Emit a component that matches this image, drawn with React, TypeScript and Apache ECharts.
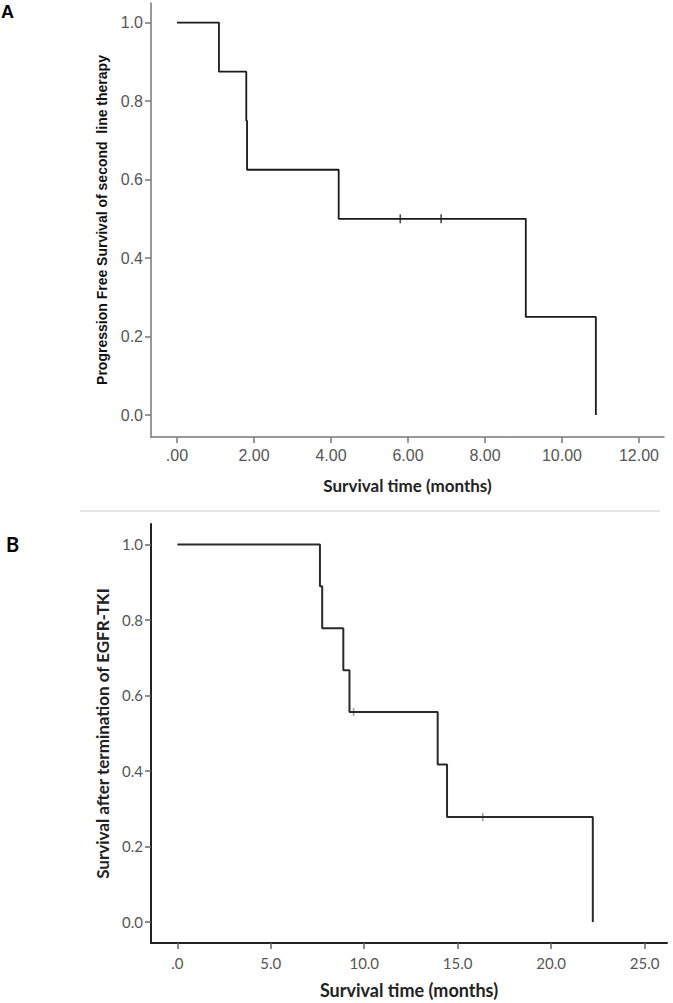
import React, { useEffect, useRef } from "react";
import * as echarts from "echarts";

// Panel A: progression free survival of second line therapy
const timesA = [0, 1.09, 1.8, 1.82, 4.2, 9.06, 10.88];
const survA = [1.0, 0.875, 0.75, 0.625, 0.5, 0.25, 0.0];
const censorTimesA = [5.8, 6.86];
const censorSurvA = [0.5, 0.5];
const xTicksA = [0, 2, 4, 6, 8, 10, 12];

// Panel B: survival after termination of EGFR-TKI
const timesB = [0, 7.63, 7.75, 8.88, 9.21, 13.93, 14.43, 22.23];
const survB = [1.0, 0.889, 0.778, 0.667, 0.556, 0.417, 0.278, 0.0];
const censorTimesB = [9.43, 16.34];
const censorSurvB = [0.556, 0.278];
const xTicksB = [0, 5, 10, 15, 20, 25];

const yTicks = [0, 0.2, 0.4, 0.6, 0.8, 1.0];

export default function App() {
  const ref = useRef<HTMLDivElement>(null);
  useEffect(() => {
    if (!ref.current) return;
    const chart = echarts.init(ref.current, null, { renderer: "svg" });
    const arial = "'Liberation Sans', Arial, sans-serif";
    const lato = "Lato, 'Open Sans', sans-serif";
    const option: any = {
      animation: false,
      backgroundColor: "#ffffff",
      grid: [
        { left: 151, top: 3, width: 513, height: 434 },
        { left: 151, top: 524, width: 516, height: 419 },
      ],
      xAxis: [
        {
          gridIndex: 0,
          type: "value",
          min: -0.675,
          max: 12.65,
          name: "Survival time (months)",
          nameLocation: "middle",
          nameGap: 40,
          nameTextStyle: { fontFamily: lato, fontWeight: "bold", fontSize: 17, color: "#222" },
          axisLine: { show: true, onZero: false, lineStyle: { color: "#777", width: 1.5 } },
          axisTick: { show: true, length: 6, customValues: xTicksA, lineStyle: { color: "#777", width: 1.5 } },
          axisLabel: {
            customValues: xTicksA,
            margin: 10,
            fontFamily: arial,
            fontSize: 16,
            color: "#555",
            formatter: (v: number) => (v === 0 ? ".00" : v.toFixed(2)),
          },
          splitLine: { show: false },
        },
        {
          gridIndex: 1,
          type: "value",
          min: -1.41,
          max: 26.2,
          name: "Survival time (months)",
          nameLocation: "middle",
          nameGap: 38,
          nameTextStyle: { fontFamily: lato, fontWeight: "bold", fontSize: 18, color: "#222" },
          axisLine: { show: true, onZero: false, lineStyle: { color: "#222", width: 2 } },
          axisTick: { show: true, length: 6, customValues: xTicksB, lineStyle: { color: "#666", width: 1.5 } },
          axisLabel: {
            customValues: xTicksB,
            margin: 12,
            fontFamily: lato,
            fontSize: 15,
            color: "#555",
            formatter: (v: number) => (v === 0 ? ".0" : v.toFixed(1)),
          },
          splitLine: { show: false },
        },
      ],
      yAxis: [
        {
          gridIndex: 0,
          type: "value",
          min: -0.056,
          max: 1.05,
          name: "Progression Free Survival of second  line therapy",
          nameLocation: "middle",
          nameGap: 42,
          nameTextStyle: { fontFamily: arial, fontWeight: "bold", fontSize: 14, color: "#111" },
          axisLine: { show: true, onZero: false, lineStyle: { color: "#777", width: 1.5 } },
          axisTick: { show: true, length: 6, customValues: yTicks, lineStyle: { color: "#777", width: 1.5 } },
          axisLabel: {
            customValues: yTicks,
            margin: 8,
            fontFamily: arial,
            fontSize: 16,
            color: "#555",
            formatter: (v: number) => v.toFixed(1),
          },
          splitLine: { show: false },
        },
        {
          gridIndex: 1,
          type: "value",
          min: -0.0556,
          max: 1.054,
          name: "Survival after termination of EGFR-TKI",
          nameLocation: "middle",
          nameGap: 34,
          nameTextStyle: { fontFamily: lato, fontWeight: "bold", fontSize: 17, color: "#222" },
          axisLine: { show: true, onZero: false, lineStyle: { color: "#222", width: 2 } },
          axisTick: { show: true, length: 6, customValues: yTicks, lineStyle: { color: "#666", width: 1.5 } },
          axisLabel: {
            customValues: yTicks,
            margin: 8,
            fontFamily: lato,
            fontSize: 15,
            color: "#555",
            formatter: (v: number) => v.toFixed(1),
          },
          splitLine: { show: false },
        },
      ],
      series: [
        {
          type: "line",
          xAxisIndex: 0,
          yAxisIndex: 0,
          step: "end",
          symbol: "none",
          lineStyle: { color: "#1a1a1a", width: 1.8 },
          data: timesA.map((t, i) => [t, survA[i]]),
        },
        {
          type: "scatter",
          xAxisIndex: 0,
          yAxisIndex: 0,
          symbol: "rect",
          symbolSize: [1.6, 9],
          itemStyle: { color: "#222" },
          data: censorTimesA.map((t, i) => [t, censorSurvA[i]]),
        },
        {
          type: "line",
          xAxisIndex: 1,
          yAxisIndex: 1,
          step: "end",
          symbol: "none",
          lineStyle: { color: "#2a2a2a", width: 2 },
          data: timesB.map((t, i) => [t, survB[i]]),
        },
        {
          type: "scatter",
          xAxisIndex: 1,
          yAxisIndex: 1,
          symbol: "rect",
          symbolSize: [1.6, 8],
          itemStyle: { color: "#888" },
          data: censorTimesB.map((t, i) => [t, censorSurvB[i]]),
        },
      ],
      graphic: [
        {
          type: "text",
          left: 1,
          top: 3,
          style: { text: "A", fontFamily: arial, fontWeight: "bold", fontSize: 18, fill: "#000" },
        },
        {
          type: "text",
          left: 6,
          top: 534,
          style: { text: "B", fontFamily: lato, fontWeight: "bold", fontSize: 20, fill: "#000" },
        },
        {
          type: "line",
          shape: { x1: 80, y1: 511, x2: 660, y2: 511 },
          style: { stroke: "#e4e4e4", lineWidth: 2 },
        },
      ],
    };
    chart.setOption(option);
    return () => chart.dispose();
  }, []);
  return (
    <div
      ref={ref}
      style={{ position: "absolute", left: 0, top: 0, width: 673, height: 1003, background: "#fff" }}
    />
  );
}
